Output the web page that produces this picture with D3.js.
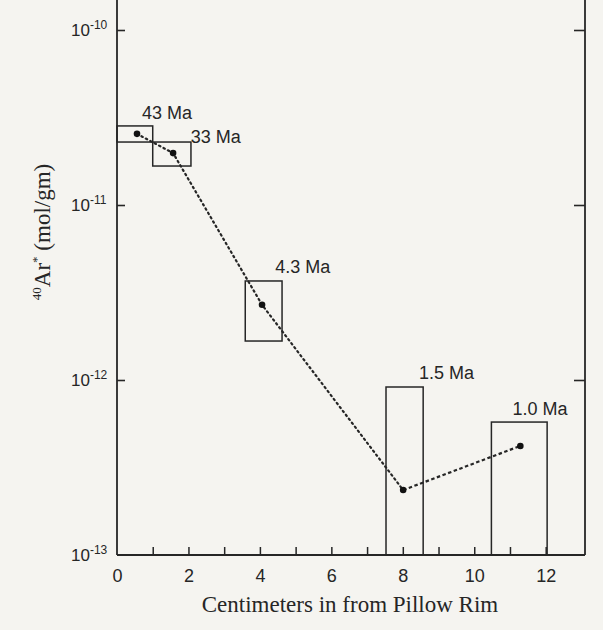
<!DOCTYPE html>
<html><head><meta charset="utf-8">
<script src="https://cdn.jsdelivr.net/npm/d3@7"></script>
<style>
html,body{margin:0;padding:0;background:#f5f4f0;}
svg{display:block;}
</style></head>
<body>
<svg id="chart" width="603" height="630"></svg>
<script>
// ---- data ----
const ages = ["43 Ma", "33 Ma", "4.3 Ma", "1.5 Ma", "1.0 Ma"];
const depthCm = [0.56, 1.57, 4.06, 8.01, 11.29];
const argon = [2.55e-11, 1.98e-11, 2.69e-12, 2.35e-13, 4.2e-13];
const boxDepthFrom = [0.0, 1.0, 3.59, 7.53, 10.48];
const boxDepthTo = [1.0, 2.07, 4.62, 8.57, 12.04];
const boxArgonLow = [2.29e-11, 1.67e-11, 1.67e-12, 1e-13, 1e-13];
const boxArgonHigh = [2.83e-11, 2.29e-11, 3.68e-12, 9.12e-13, 5.75e-13];
const xTickLabels = [0, 2, 4, 6, 8, 10, 12];
const xMinorTicks = [1, 2, 3, 4, 5, 6, 7, 8, 9, 10, 11, 12];
const yTickValues = [1e-10, 1e-11, 1e-12, 1e-13];
const yTickExponents = ["-10", "-11", "-12", "-13"];

// ---- layout ----
const svg = d3.select("#chart");
const ink = "#262626";
const x = d3.scaleLinear().domain([0, 13.1]).range([117, 585]);
const y = d3.scaleLog().domain([1e-13, 1e-10]).range([555, 30]);
const topY = 0;
const sans = "'Liberation Sans', Arial, Helvetica, sans-serif";
const serif = "'Liberation Serif', 'Times New Roman', serif";

// axes frame (left, bottom, right)
svg.append("line").attr("x1", x(0)).attr("x2", x(0)).attr("y1", topY).attr("y2", y(1e-13))
  .attr("stroke", ink).attr("stroke-width", 1.8);
svg.append("line").attr("x1", x(13.1)).attr("x2", x(13.1)).attr("y1", topY).attr("y2", y(1e-13))
  .attr("stroke", ink).attr("stroke-width", 1.8);
svg.append("line").attr("x1", x(0)).attr("x2", x(13.1)).attr("y1", y(1e-13)).attr("y2", y(1e-13))
  .attr("stroke", ink).attr("stroke-width", 1.8);

// bottom ticks (inward) using d3 axis
const xAxisTicks = d3.axisBottom(x).tickValues(xMinorTicks).tickSize(-8).tickFormat("");
const gx = svg.append("g").attr("transform", `translate(0,${y(1e-13)})`).call(xAxisTicks);
gx.select(".domain").remove();
gx.selectAll("line").attr("stroke", ink).attr("stroke-width", 1.5);

// bottom tick labels
const xLab = d3.axisBottom(x).tickValues(xTickLabels).tickSize(0).tickPadding(14).tickFormat(d3.format("d"));
const gxl = svg.append("g").attr("transform", `translate(0,${y(1e-13)})`).call(xLab);
gxl.select(".domain").remove();
gxl.selectAll("text").attr("font-family", sans).attr("font-size", 18).attr("fill", ink);

// left ticks (inward)
const gyl = svg.append("g").attr("transform", `translate(${x(0)},0)`)
  .call(d3.axisRight(y).tickValues(yTickValues.slice(0, 3)).tickSize(8).tickFormat(""));
gyl.select(".domain").remove();
gyl.selectAll("line").attr("stroke", ink).attr("stroke-width", 1.6);

// right ticks (inward)
const gyr = svg.append("g").attr("transform", `translate(${x(13.1)},0)`)
  .call(d3.axisLeft(y).tickValues(yTickValues.slice(0, 3)).tickSize(11).tickFormat(""));
gyr.select(".domain").remove();
gyr.selectAll("line").attr("stroke", ink).attr("stroke-width", 1.6);

// left tick labels 10^n
const ylab = svg.append("g");
yTickValues.forEach((v, i) => {
  const t = ylab.append("text").attr("x", 71).attr("y", y(v) + 6)
    .attr("font-family", sans).attr("font-size", 17).attr("fill", ink);
  t.append("tspan").text("10");
  t.append("tspan").attr("dy", -7).attr("font-size", 12).text(yTickExponents[i]);
});

// boxes
svg.append("g").selectAll("rect").data(ages).join("rect")
  .attr("x", (d, i) => x(boxDepthFrom[i]))
  .attr("width", (d, i) => x(boxDepthTo[i]) - x(boxDepthFrom[i]))
  .attr("y", (d, i) => y(boxArgonHigh[i]))
  .attr("height", (d, i) => y(boxArgonLow[i]) - y(boxArgonHigh[i]))
  .attr("fill", "none").attr("stroke", ink).attr("stroke-width", 1.5);

// age labels
const labelDx = [25, 38, 30, 33, 21];
const labelDy = [-7, 1, -8, -8, -7];
svg.append("g").selectAll("text").data(ages).join("text")
  .attr("x", (d, i) => x(boxDepthFrom[i]) + labelDx[i])
  .attr("y", (d, i) => y(boxArgonHigh[i]) + labelDy[i])
  .attr("font-family", sans).attr("font-size", 18).attr("fill", ink)
  .text(d => d);

// connecting lines
const pts = depthCm.map((d, i) => [x(d), y(argon[i])]);
const line = d3.line();
svg.append("path").attr("d", line(pts.slice(0, 4)))
  .attr("fill", "none").attr("stroke", ink).attr("stroke-width", 2.2)
  .attr("stroke-dasharray", "1.5,3.5").attr("stroke-linecap", "round");
svg.append("path").attr("d", line(pts.slice(3, 5)))
  .attr("fill", "none").attr("stroke", ink).attr("stroke-width", 2.2)
  .attr("stroke-dasharray", "3.5,2.5");

// points
svg.append("g").selectAll("circle").data(pts).join("circle")
  .attr("cx", d => d[0]).attr("cy", d => d[1]).attr("r", 3.3).attr("fill", "#111");

// axis titles
svg.append("text").attr("x", 350).attr("y", 612)
  .attr("text-anchor", "middle").attr("font-family", serif).attr("font-size", 23).attr("fill", ink)
  .text("Centimeters in from Pillow Rim");

const yt = svg.append("text").attr("transform", "translate(50,232) rotate(-90)")
  .attr("text-anchor", "middle").attr("font-family", serif).attr("font-size", 23).attr("fill", ink);
yt.append("tspan").attr("font-size", 13).attr("dy", -9).text("40");
yt.append("tspan").attr("dy", 9).text("Ar");
yt.append("tspan").attr("font-size", 13).attr("dy", -9).text("*");
yt.append("tspan").attr("dy", 9).text(" (mol/gm)");
</script>
</body></html>
